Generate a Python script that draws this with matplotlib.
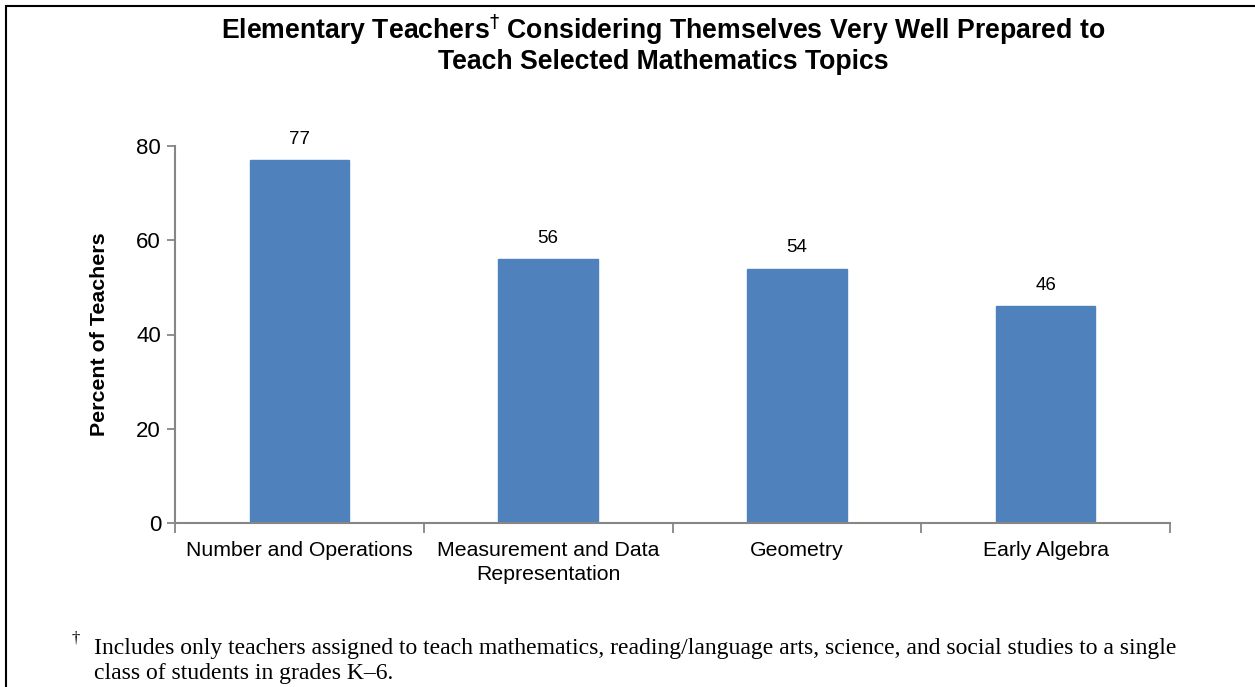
import matplotlib
matplotlib.use("Agg")
import matplotlib.pyplot as plt
from matplotlib.patches import Rectangle

categories = ["Number and Operations", "Measurement and Data\nRepresentation", "Geometry", "Early Algebra"]
values = [77, 56, 54, 46]
yticks = [0, 20, 40, 60, 80]

title = "Elementary Teachers$^{\\dagger}$ Considering Themselves Very Well Prepared to\nTeach Selected Mathematics Topics"
ylabel = "Percent of Teachers"
footnote = ("Includes only teachers assigned to teach mathematics, reading/language arts, science, and social studies to a single\n"
            "class of students in grades K\u20136.")

plt.rcParams['font.family'] = ['Liberation Sans', 'DejaVu Sans']

fig = plt.figure(figsize=(12.55, 6.87), dpi=100)
ax = fig.add_axes([175/1255, 1-523/687, (1170-175)/1255, (523-146)/687])

x = list(range(len(categories)))
bars = ax.bar(x, values, width=0.4, color="#4F81BD", edgecolor="#4F81BD", zorder=2)
for xi, v in zip(x, values):
    ax.annotate(str(v), (xi, v), xytext=(0, 9), textcoords="offset points",
                ha="center", va="bottom", fontsize=13.5, color="#000000")

ax.set_xlim(-0.5, len(categories) - 0.5)
ax.set_ylim(0, 80)
ax.set_yticks(yticks)
ax.tick_params(axis="y", labelsize=16, length=6, width=1.3, color="#868686", pad=4)
ax.set_xticks(x)
ax.set_xticklabels(categories, fontsize=15.3, linespacing=1.32)
ax.tick_params(axis="x", length=0, pad=13)
# boundary ticks on x axis
ax.set_xticks([i - 0.5 for i in range(len(categories) + 1)], minor=True)
ax.tick_params(axis="x", which="minor", length=7, width=1.3, color="#868686")

for s in ["top", "right"]:
    ax.spines[s].set_visible(False)
for s in ["left", "bottom"]:
    ax.spines[s].set_color("#868686")
    ax.spines[s].set_linewidth(1.5)

ax.set_ylabel(ylabel, fontsize=15.4, fontweight="bold", labelpad=20)

fig.text(663/1255, 1-44/687, title, ha="center", va="center", fontsize=19.2,
         fontweight="bold", linespacing=1.1)

fig.text(72/1255, 1-639/687, "\u2020", fontsize=12, family="Liberation Serif", ha="left", va="center")
fig.text(94/1255, 1-661/687, footnote, fontsize=17.0, family="Liberation Serif",
         ha="left", va="center", linespacing=1.22)

fig.patches.append(Rectangle((6/1255, -0.1), 1.2, 1 - 6/687 + 0.1, transform=fig.transFigure,
                             fill=False, edgecolor="black", linewidth=1.5))

fig.savefig("out.png", dpi=100)
